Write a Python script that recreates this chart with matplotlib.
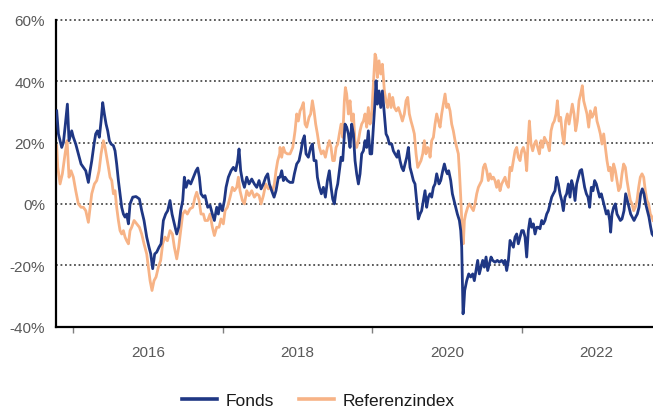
import matplotlib
matplotlib.use("Agg")
import matplotlib.pyplot as plt
from matplotlib.lines import Line2D

plt.rcParams['font.family'] = ['Liberation Sans', 'DejaVu Sans']

# cumulative performance in %, x in decimal years
fonds_years = [
    2014.777, 2014.800, 2014.822, 2014.844, 2014.867, 2014.889, 2014.920, 2014.942, 2014.978, 2015.000,
    2015.032, 2015.067, 2015.103, 2015.134, 2015.166, 2015.201, 2015.224, 2015.246, 2015.277, 2015.299,
    2015.322, 2015.348, 2015.371, 2015.393, 2015.415, 2015.438, 2015.460, 2015.482, 2015.505, 2015.536,
    2015.558, 2015.580, 2015.603, 2015.625, 2015.647, 2015.670, 2015.692, 2015.714, 2015.737,
    2015.759, 2015.795, 2015.839, 2015.884, 2015.915, 2015.946, 2015.982, 2016.013, 2016.036, 2016.062,
    2016.089, 2016.116, 2016.147, 2016.174, 2016.205, 2016.236, 2016.263, 2016.294, 2016.321, 2016.352,
    2016.384, 2016.410, 2016.437, 2016.464, 2016.486, 2016.509, 2016.540, 2016.571, 2016.607, 2016.642,
    2016.665, 2016.687, 2016.709, 2016.741,
    2016.763, 2016.799, 2016.830, 2016.861, 2016.888, 2016.919, 2016.941, 2016.964, 2016.995, 2017.022,
    2017.044, 2017.075, 2017.111, 2017.142, 2017.173, 2017.200, 2017.218, 2017.240, 2017.263, 2017.290,
    2017.321, 2017.352, 2017.388, 2017.423, 2017.455, 2017.486, 2017.513, 2017.544, 2017.575, 2017.602,
    2017.624, 2017.655, 2017.687, 2017.713, 2017.745,
    2017.767, 2017.789, 2017.812, 2017.834, 2017.865, 2017.901, 2017.937, 2017.959, 2017.990, 2018.021,
    2018.048, 2018.070, 2018.093, 2018.115, 2018.146, 2018.177, 2018.200, 2018.222, 2018.249, 2018.267,
    2018.294, 2018.320, 2018.347, 2018.374, 2018.401, 2018.427, 2018.450, 2018.472, 2018.494, 2018.517,
    2018.539, 2018.561, 2018.584, 2018.606, 2018.637, 2018.659, 2018.682, 2018.704, 2018.726, 2018.749,
    2018.771, 2018.793, 2018.816, 2018.838, 2018.860, 2018.883, 2018.905, 2018.927, 2018.949, 2018.972,
    2018.994, 2019.016, 2019.039, 2019.052, 2019.070, 2019.092, 2019.115, 2019.137, 2019.164, 2019.186,
    2019.208, 2019.231, 2019.262, 2019.284, 2019.306, 2019.333, 2019.351, 2019.373, 2019.396, 2019.418,
    2019.440, 2019.463, 2019.485, 2019.507, 2019.530, 2019.552, 2019.574, 2019.596, 2019.619, 2019.641,
    2019.663, 2019.686, 2019.708, 2019.730, 2019.753,
    2019.775, 2019.797, 2019.820, 2019.842, 2019.864, 2019.895, 2019.918, 2019.945, 2019.967, 2019.989,
    2020.007, 2020.025, 2020.052, 2020.074, 2020.096, 2020.119, 2020.141, 2020.168, 2020.186, 2020.199,
    2020.208, 2020.217, 2020.226, 2020.239, 2020.266, 2020.293, 2020.319, 2020.346, 2020.368, 2020.391,
    2020.413, 2020.435, 2020.458, 2020.480, 2020.502, 2020.525, 2020.547, 2020.569, 2020.592, 2020.614,
    2020.645, 2020.676, 2020.703, 2020.734, 2020.766,
    2020.779, 2020.801, 2020.824, 2020.846, 2020.868, 2020.891, 2020.913, 2020.935, 2020.957, 2020.980,
    2021.002, 2021.024, 2021.047, 2021.069, 2021.091, 2021.114, 2021.136, 2021.158, 2021.181, 2021.203,
    2021.225, 2021.247, 2021.270, 2021.292, 2021.314, 2021.337, 2021.359, 2021.381, 2021.404, 2021.426,
    2021.448, 2021.471, 2021.493, 2021.515, 2021.538, 2021.560, 2021.582, 2021.604, 2021.627, 2021.649,
    2021.671, 2021.694, 2021.716, 2021.738, 2021.761, 2021.783, 2021.805,
    2021.845, 2021.868, 2021.890, 2021.912, 2021.934, 2021.957, 2021.979, 2022.001, 2022.024, 2022.046,
    2022.068, 2022.091, 2022.113, 2022.135, 2022.158, 2022.180, 2022.193, 2022.211, 2022.233, 2022.256,
    2022.278, 2022.300, 2022.323, 2022.345, 2022.372, 2022.394, 2022.416, 2022.439, 2022.461, 2022.483,
    2022.506, 2022.528, 2022.550, 2022.573, 2022.595, 2022.617, 2022.639, 2022.662, 2022.684, 2022.706,
    2022.729, 2022.747, 2022.760,
]
fonds_values = [
    30.3, 22.8, 20.6, 18.4, 20.0, 25.0, 32.5, 20.6, 23.8, 21.7,
    19.5, 16.3, 13.0, 11.9, 10.8, 7.0, 10.8, 14.0, 19.5, 22.8,
    23.8, 21.7, 27.0, 33.0, 29.3, 26.0, 23.8, 20.6, 19.5, 19.0,
    17.3, 13.0, 7.6, 3.3, -1.1, -3.3, -4.3, -3.3, -6.5,
    0.0, 2.2, 2.4, 1.6, -2.2, -5.4, -10.8, -14.1, -16.3, -21.1,
    -16.3, -15.7, -14.1, -13.0, -5.4, -3.3, -2.2, 1.1, -3.3, -6.5,
    -9.8, -7.6, -2.2, 1.1, 8.7, 5.4, 7.6, 6.5, 8.7, 10.8,
    11.7, 8.7, 3.3, 2.2,
    2.7, -1.1, -0.5, -3.3, -5.4, -1.1, -3.3, 0.0, -2.2, 1.1,
    5.4, 8.7, 10.8, 11.9, 10.8, 14.1, 17.9, 10.8, 7.6, 5.4,
    8.7, 6.5, 8.1, 6.5, 5.4, 7.6, 4.9, 6.5, 8.7, 9.8,
    6.5, 4.3, 2.2, 4.3, 8.7,
    8.7, 10.8, 7.6, 8.7, 7.6, 7.0, 7.0, 9.8, 13.0, 14.1,
    17.3, 20.6, 22.2, 16.3, 15.2, 18.4, 19.5, 14.1, 14.1, 8.7,
    5.4, 3.3, 5.4, 2.2, 7.6, 10.8, 5.4, 1.6, 0.0, 4.3,
    6.5, 10.8, 15.2, 14.1, 26.0, 25.0, 22.8, 18.4, 26.0, 22.8,
    14.1, 9.8, 6.5, 9.8, 16.3, 17.3, 20.6, 18.4, 23.8, 16.3,
    16.3, 25.0, 33.6, 40.1, 32.5, 36.8, 31.4, 36.8, 29.3, 22.8,
    21.7, 19.5, 19.5, 17.3, 16.3, 15.2, 17.3, 14.1, 11.9, 10.8,
    13.0, 15.2, 18.4, 11.9, 9.8, 7.6, 6.5, 1.1, -4.9, -3.3,
    -2.2, 1.1, 4.3, -1.1, 2.2,
    3.3, 2.2, 5.4, 6.5, 9.8, 6.5, 7.6, 10.8, 13.0, 10.8,
    9.8, 10.8, 7.6, 3.3, 1.1, -1.1, -3.3, -5.4, -8.7, -14.1,
    -25.0, -35.8, -33.6, -28.2, -25.0, -22.8, -23.8, -22.8, -25.0, -21.7,
    -18.4, -22.8, -20.6, -18.4, -20.6, -17.3, -21.7, -19.5, -17.3, -18.4,
    -19.0, -18.4, -19.0, -18.4, -19.5,
    -18.4, -21.7, -18.4, -11.9, -13.0, -14.1, -10.8, -9.8, -13.0, -10.8,
    -8.7, -8.7, -10.8, -17.3, -8.7, -4.9, -7.6, -6.5, -9.8, -7.6,
    -7.6, -8.1, -5.4, -6.5, -5.4, -3.3, -2.2, 0.0, 2.2, 3.3,
    4.3, 8.7, 6.5, 3.3, 1.1, -2.2, 2.2, 3.3, 6.5, 2.2,
    7.6, 5.4, 1.1, 6.5, 8.7, 10.8, 11.2,
    5.4, 3.3, 2.2, -1.1, 5.4, 4.3, 7.6, 6.5, 4.3, 2.2,
    3.3, 1.1, -1.1, -3.3, -2.2, -5.4, -9.2, -3.3, -1.1, 0.0,
    -3.3, -4.3, -5.4, -4.9, -2.2, 3.3, 1.1, -1.1, -3.3, -4.3,
    -5.4, -4.3, -3.3, -1.1, 3.3, 4.9, 3.3, 0.0, -2.2, -4.3,
    -7.6, -9.8, -10.2,
]

ref_years = [
    2014.777, 2014.791, 2014.822, 2014.853, 2014.889, 2014.916, 2014.942, 2014.969, 2015.000, 2015.032,
    2015.067, 2015.103, 2015.134, 2015.166, 2015.201, 2015.224, 2015.246, 2015.282, 2015.313, 2015.344,
    2015.371, 2015.402, 2015.424, 2015.447, 2015.469, 2015.491, 2015.514, 2015.536, 2015.558, 2015.580,
    2015.603, 2015.625, 2015.647, 2015.670, 2015.692, 2015.714, 2015.737,
    2015.759, 2015.781, 2015.813, 2015.848, 2015.884, 2015.915, 2015.946, 2015.982, 2016.004, 2016.027,
    2016.053, 2016.080, 2016.107, 2016.138, 2016.169, 2016.196, 2016.227, 2016.259, 2016.294, 2016.326,
    2016.352, 2016.384, 2016.410, 2016.437, 2016.464, 2016.495, 2016.526, 2016.562, 2016.598, 2016.629,
    2016.651, 2016.683, 2016.709, 2016.741,
    2016.763, 2016.799, 2016.830, 2016.861, 2016.888, 2016.919, 2016.950, 2016.977, 2017.008, 2017.031,
    2017.062, 2017.098, 2017.129, 2017.156, 2017.187, 2017.209, 2017.231, 2017.263, 2017.290, 2017.321,
    2017.352, 2017.388, 2017.423, 2017.455, 2017.486, 2017.513, 2017.544, 2017.575, 2017.611, 2017.642,
    2017.669, 2017.691, 2017.713, 2017.736, 2017.762,
    2017.767, 2017.789, 2017.812, 2017.834, 2017.865, 2017.901, 2017.937, 2017.968, 2017.990, 2018.012,
    2018.035, 2018.057, 2018.079, 2018.102, 2018.124, 2018.155, 2018.177, 2018.200, 2018.222, 2018.244,
    2018.267, 2018.294, 2018.320, 2018.347, 2018.374, 2018.401, 2018.427, 2018.450, 2018.472, 2018.494,
    2018.517, 2018.539, 2018.561, 2018.584, 2018.606, 2018.628, 2018.642, 2018.659, 2018.682, 2018.704,
    2018.726, 2018.749,
    2018.771, 2018.793, 2018.816, 2018.838, 2018.860, 2018.883, 2018.905, 2018.927, 2018.949, 2018.972,
    2018.994, 2019.016, 2019.039, 2019.052, 2019.070, 2019.092, 2019.115, 2019.137, 2019.164, 2019.186,
    2019.208, 2019.231, 2019.253, 2019.275, 2019.298, 2019.324, 2019.351, 2019.378, 2019.405, 2019.431,
    2019.454, 2019.476, 2019.498, 2019.520, 2019.543, 2019.565, 2019.588, 2019.610, 2019.632, 2019.654,
    2019.677, 2019.699, 2019.721, 2019.744, 2019.766,
    2019.775, 2019.797, 2019.820, 2019.842, 2019.864, 2019.887, 2019.909, 2019.931, 2019.953, 2019.976,
    2019.998, 2020.020, 2020.043, 2020.065, 2020.087, 2020.110, 2020.132, 2020.154, 2020.168, 2020.186,
    2020.199, 2020.208, 2020.221, 2020.235, 2020.252, 2020.279, 2020.302, 2020.328, 2020.355, 2020.377,
    2020.400, 2020.422, 2020.444, 2020.467, 2020.489, 2020.511, 2020.534, 2020.556, 2020.578, 2020.600,
    2020.623, 2020.645, 2020.667, 2020.690, 2020.712, 2020.734, 2020.757,
    2020.779, 2020.801, 2020.824, 2020.846, 2020.868, 2020.891, 2020.913, 2020.935, 2020.957, 2020.980,
    2021.002, 2021.024, 2021.047, 2021.069, 2021.091, 2021.105, 2021.127, 2021.149, 2021.172, 2021.194,
    2021.216, 2021.239, 2021.261, 2021.283, 2021.306, 2021.328, 2021.350, 2021.372, 2021.395, 2021.417,
    2021.439, 2021.462, 2021.480, 2021.502, 2021.524, 2021.546, 2021.569, 2021.591, 2021.613, 2021.636,
    2021.658, 2021.680, 2021.703, 2021.725, 2021.747, 2021.770, 2021.792, 2021.814,
    2021.832, 2021.854, 2021.876, 2021.899, 2021.921, 2021.943, 2021.966, 2021.988, 2022.010, 2022.033,
    2022.055, 2022.077, 2022.100, 2022.122, 2022.144, 2022.167, 2022.189, 2022.211, 2022.233, 2022.256,
    2022.278, 2022.300, 2022.323, 2022.345, 2022.367, 2022.390, 2022.412, 2022.434, 2022.457, 2022.479,
    2022.501, 2022.523, 2022.546, 2022.568, 2022.590, 2022.613, 2022.635, 2022.657, 2022.680, 2022.702,
    2022.724, 2022.747, 2022.760,
]
ref_values = [
    19.0, 12.0, 6.5, 9.8, 16.3, 20.6, 8.7, 10.8, 8.7, 4.3,
    0.0, -1.1, -1.1, -2.2, -6.0, -1.1, 3.3, 6.5, 7.6, 10.8,
    16.3, 20.6, 18.4, 15.2, 12.0, 8.7, 7.6, 3.3, 4.3, -1.1,
    -5.4, -8.7, -9.8, -8.7, -10.8, -12.0, -13.0,
    -8.7, -7.6, -5.4, -6.5, -7.6, -9.8, -13.0, -16.3, -20.6, -25.0,
    -28.2, -25.0, -23.8, -20.6, -18.4, -13.0, -10.8, -12.0, -8.7, -9.8,
    -14.1, -17.9, -14.1, -8.7, -3.3, -2.2, -3.3, -1.6, -1.1, 2.2,
    3.8, 1.1, -3.3, -3.3,
    -5.4, -5.4, -3.3, -7.6, -10.3, -7.6, -7.6, -4.9, -6.5, -2.2,
    -1.1, 2.2, 5.4, 4.3, 5.4, 8.7, 4.3, 1.1, 0.0, 4.3,
    2.7, 4.3, 2.2, 3.3, 2.7, 0.0, 2.7, 6.5, 4.9, 5.4,
    4.3, 6.5, 10.8, 14.1, 16.3,
    18.4, 15.2, 18.4, 16.8, 16.3, 16.3, 18.4, 23.8, 29.3, 27.0,
    30.3, 31.4, 33.0, 26.0, 25.0, 28.2, 29.3, 33.6, 30.3, 26.0,
    22.8, 18.4, 16.3, 17.3, 15.2, 18.4, 20.6, 18.4, 14.1, 14.1,
    18.4, 19.5, 22.8, 26.0, 21.7, 33.6, 37.9, 35.8, 29.3, 33.6,
    27.0, 29.3,
    20.0, 18.4, 20.6, 23.8, 26.0, 27.0, 29.3, 25.0, 31.4, 26.0,
    29.3, 39.0, 48.8, 47.7, 41.2, 46.6, 42.3, 45.5, 36.8, 33.6,
    31.4, 35.8, 31.4, 34.7, 31.4, 30.3, 31.4, 29.3, 27.0, 29.3,
    33.6, 34.7, 29.3, 27.0, 25.0, 22.8, 16.3, 11.9, 13.0, 14.1,
    16.3, 20.6, 16.3, 18.4, 17.3,
    15.2, 20.6, 21.7, 26.0, 29.3, 27.0, 25.0, 29.3, 32.5, 35.8,
    31.4, 32.5, 30.3, 26.0, 23.8, 20.6, 18.4, 16.3, 10.8, 2.2,
    -5.4, -9.8, -13.0, -5.4, -3.3, -1.1, 0.0, -1.1, -2.2, 0.0,
    3.3, 5.4, 6.5, 7.6, 11.9, 13.0, 10.8, 7.6, 9.8, 8.1,
    8.7, 7.6, 5.4, 7.6, 4.3, 6.5, 7.6,
    8.7, 6.5, 5.4, 11.9, 10.8, 14.1, 17.3, 18.4, 15.2, 14.1,
    17.3, 18.4, 16.3, 10.8, 21.7, 27.0, 19.5, 17.3, 19.5, 20.6,
    18.4, 16.3, 20.6, 18.4, 21.7, 20.6, 19.5, 17.3, 23.8, 26.0,
    27.0, 29.3, 33.6, 27.0, 28.2, 22.8, 19.5, 27.0, 29.3, 26.0,
    29.3, 32.5, 29.3, 23.8, 27.0, 33.6, 35.8, 38.5,
    33.6, 31.4, 29.3, 25.0, 30.3, 28.2, 29.3, 31.4, 27.0, 25.0,
    22.8, 19.5, 22.8, 18.4, 14.1, 10.8, 11.9, 7.6, 13.0, 10.8,
    7.6, 4.3, 5.4, 9.8, 13.0, 11.9, 7.6, 4.3, 1.1, 0.0,
    -2.2, -1.1, 1.1, 5.4, 8.7, 9.8, 8.7, 4.3, 1.1, 0.0,
    -3.3, -4.3, -5.4,
]

y_ticks = [-40, -20, 0, 20, 40, 60]
label_years = [2016, 2018, 2020, 2022]
mark_years = [2015, 2017, 2019, 2021]
series_names = ['Fonds', 'Referenzindex']

navy = '#1f3784'
peach = '#f7b386'
grid_col = '#4d4d4d'
label_col = '#595959'

fig = plt.figure(figsize=(6.53, 4.10), dpi=100)
ax = fig.add_axes([0.0858, 0.2007, 0.9142, 0.7488])

for y in y_ticks[1:]:
    ax.axhline(y, color=grid_col, lw=1.3, ls=(0, (1, 1.5)), zorder=0, clip_on=False)

ax.plot(ref_years, ref_values, color=peach, lw=2.0, zorder=2)
ax.plot(fonds_years, fonds_values, color=navy, lw=2.0, zorder=3)

ax.set_xlim(2014.768, 2022.760)
ax.set_ylim(-40, 60)

ax.set_yticks(y_ticks)
ax.set_yticklabels([f'{v}%' for v in y_ticks])
ax.tick_params(axis='y', length=0, pad=8, labelsize=11, labelcolor=label_col)

ax.set_xticks(label_years)
ax.set_xticklabels([str(y) for y in label_years])
ax.set_xticks(mark_years, minor=True)
ax.tick_params(axis='x', which='major', length=0, pad=13, labelsize=11, labelcolor=label_col)
ax.tick_params(axis='x', which='minor', length=4, width=1, color='#7f7f7f')

for side in ['top', 'right']:
    ax.spines[side].set_visible(False)
for side in ['left', 'bottom']:
    ax.spines[side].set_linewidth(1.6)
    ax.spines[side].set_color('black')

handles = [Line2D([], [], color=navy, lw=2.6), Line2D([], [], color=peach, lw=2.6)]
fig.legend(handles, series_names, loc='center', bbox_to_anchor=(0.488, 0.02),
           ncol=2, frameon=False, fontsize=12.5, handlelength=2.0, handletextpad=0.5,
           columnspacing=1.45, labelcolor='#1a1a1a')

fig.savefig('out.png', dpi=100)
